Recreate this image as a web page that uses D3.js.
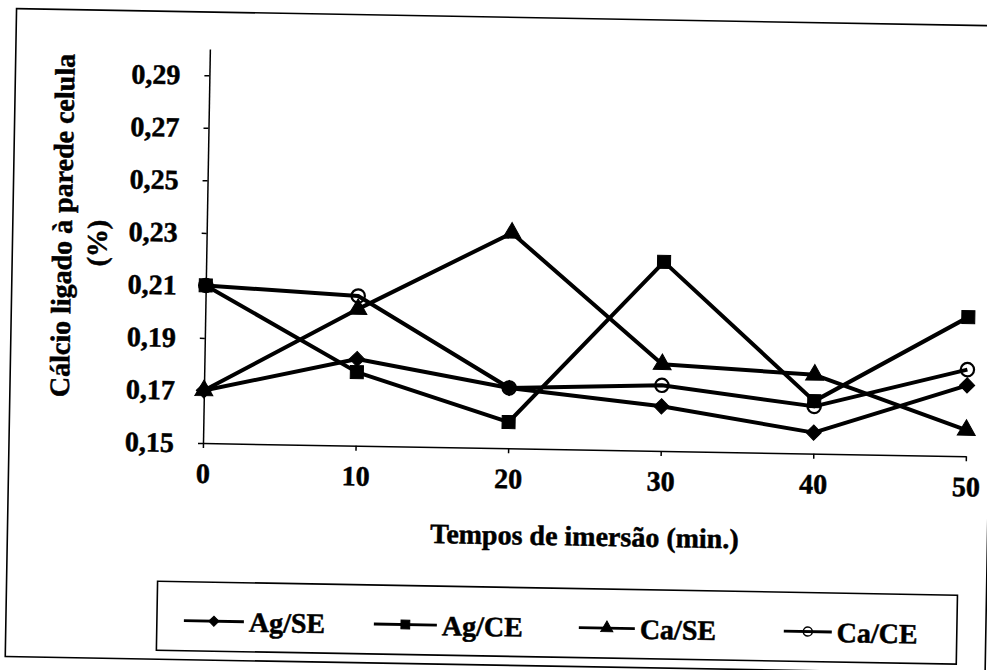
<!DOCTYPE html>
<html>
<head>
<meta charset="utf-8">
<script src="https://cdnjs.cloudflare.com/ajax/libs/d3/7.8.5/d3.min.js"></script>
<style>
	body { margin: 0; background: #fff; }
	text { font-family: "Liberation Serif", "Times New Roman", serif; font-weight: bold; fill: #000; stroke: #000; stroke-width: 0.5px; }
</style>
</head>
<body>
<svg width="987" height="670"></svg>
<script>
// tempos de imersão (min.)
const times = [0, 10, 20, 30, 40, 50];
// cálcio ligado à parede celular (%)
const agSE = [0.170, 0.183, 0.173, 0.167, 0.158, 0.177];
const agCE = [0.210, 0.178, 0.160, 0.222, 0.170, 0.203];
const caSE = [0.170, 0.202, 0.232, 0.183, 0.180, 0.160];
const caCE = [0.210, 0.207, 0.173, 0.175, 0.168, 0.183];
const seriesNames = ['Ag/SE', 'Ag/CE', 'Ca/SE', 'Ca/CE'];
const xTicks = [0, 10, 20, 30, 40, 50];
const yTicks = [0.15, 0.17, 0.19, 0.21, 0.23, 0.25, 0.27, 0.29];

var svg = d3.select("svg");
// the scan is a little tilted, so the whole figure gets rotated
const g = svg.append("g").attr("transform", "rotate(1,203,443)");

var x = d3.scaleLinear().domain([0, 50]).range([203, 966]);
var y = d3.scaleLinear().domain([0.15, 0.30]).range([443, 49]);

// outer frame
g.append("rect")
	.attr("x", 9).attr("y", 12)
	.attr("width", 980).attr("height", 648)
	.attr("fill", "none").attr("stroke", "#000").attr("stroke-width", 1.6);

function fmt(d) {
	return d.toFixed(2).replace('.', ',');
}

var yAxis = g.append("g")
	.attr("transform", "translate(203,0)")
	.call(d3.axisLeft(y).tickValues(yTicks).tickSizeInner(5).tickSizeOuter(0).tickPadding(24).tickFormat(fmt));

var xAxis = g.append("g")
	.attr("transform", "translate(0,443)")
	.call(d3.axisBottom(x).tickValues(xTicks).tickSizeInner(5).tickSizeOuter(0).tickPadding(15));

[yAxis, xAxis].forEach(function(a) {
	a.selectAll("path, line").attr("stroke", "#000").attr("stroke-width", 1.5);
	a.selectAll("text").style("font-size", "28px").attr("font-family", null).attr("fill", null);
});

// axis titles
g.append("text")
	.attr("x", 586).attr("y", 539)
	.attr("text-anchor", "middle")
	.style("font-size", "28px")
	.text("Tempos de imersão (min.)");

g.append("text")
	.attr("transform", "translate(68,228) rotate(-90)")
	.attr("text-anchor", "middle")
	.style("font-size", "28px")
	.text("Cálcio ligado à parede celula");

g.append("text")
	.attr("transform", "translate(103,245) rotate(-90)")
	.attr("text-anchor", "middle")
	.style("font-size", "28px")
	.text("(%)");

// series
var series = [agSE, agCE, caSE, caCE].map(function(vals, i) {
	return { name: seriesNames[i], points: vals.map((v, j) => [times[j], v]) };
});

var symbols = [
	{ type: d3.symbolSquare, size: 115, rot: 45, fill: "#000" },
	{ type: d3.symbolSquare, size: 170, rot: 0, fill: "#000" },
	{ type: d3.symbolTriangle, size: 140, rot: 0, fill: "#000" },
	{ type: d3.symbolCircle, size: 140, rot: 0, fill: "none" }
];

var line = d3.line().x(d => x(d[0])).y(d => y(d[1]));

function drawMarker(sel, k, scale) {
	var s = symbols[k];
	return sel.append("path")
		.attr("d", d3.symbol(s.type, s.size * scale))
		.attr("fill", s.fill)
		.attr("stroke", "#000")
		.attr("stroke-width", s.fill == "none" ? 2.2 : 1);
}

series.forEach(function(s, k) {
	g.append("path")
		.attr("d", line(s.points))
		.attr("fill", "none")
		.attr("stroke", "#000")
		.attr("stroke-width", 4)
		.attr("stroke-linejoin", "round");
	s.points.forEach(function(p) {
		var m = g.append("g")
			.attr("transform", "translate(" + x(p[0]) + "," + y(p[1]) + ") rotate(" + symbols[k].rot + ")");
		drawMarker(m, k, 1);
	});
});

// legend
var leg = g.append("g");
leg.append("rect")
	.attr("x", 160).attr("y", 582)
	.attr("width", 800).attr("height", 69)
	.attr("fill", "none").attr("stroke", "#000").attr("stroke-width", 1.6);

var legX = [187, 377, 582, 787];
var legLen = [60, 63, 56, 48];
series.forEach(function(s, k) {
	var item = leg.append("g").attr("transform", "translate(" + legX[k] + ",621)");
	item.append("line")
		.attr("x1", 0).attr("x2", legLen[k])
		.attr("stroke", "#000").attr("stroke-width", 2.8);
	var m = item.append("g")
		.attr("transform", "translate(" + legLen[k] / 2 + ",0) rotate(" + symbols[k].rot + ")");
	drawMarker(m, k, 0.45).attr("stroke-width", symbols[k].fill == "none" ? 1.5 : 1);
	item.append("text")
		.attr("x", legLen[k] + 5).attr("y", 10)
		.style("font-size", "28px")
		.text(s.name);
});
</script>
</body>
</html>
